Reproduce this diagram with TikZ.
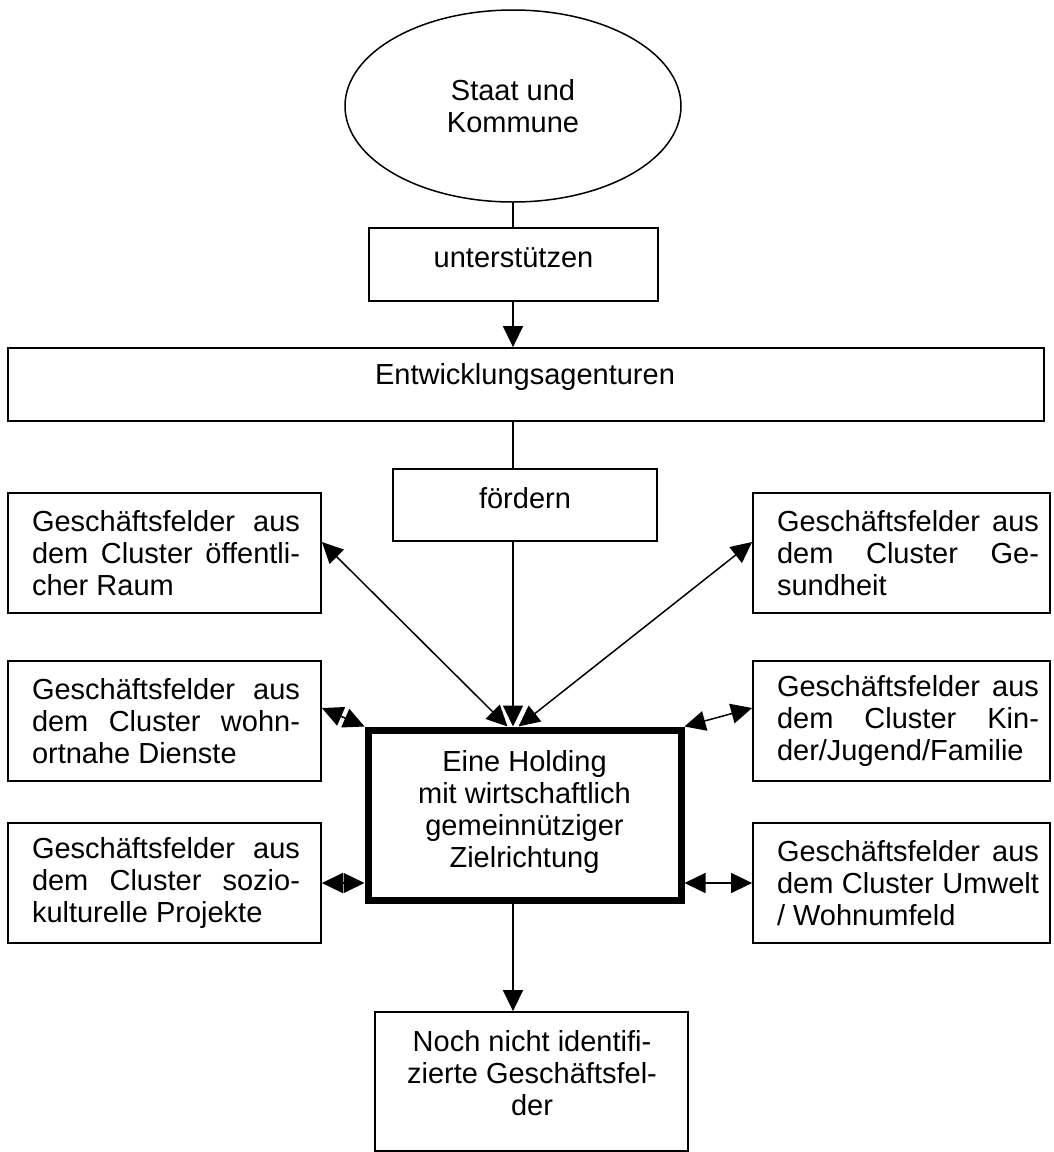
\documentclass[tikz,border=0pt]{standalone}
\usepackage{fontspec}
\setmainfont{Liberation Sans}
\usetikzlibrary{shapes.geometric,arrows.meta}
\newcommand{\diafont}{\fontsize{29}{32}\selectfont}
\begin{document}
\tolerance=10000\relax
\hbadness=10000\relax
\hyphenpenalty=10000\relax
\begin{tikzpicture}[x=1pt,y=-1pt,
  box/.style={draw, line width=1.8pt, inner sep=0pt},
  thickbox/.style={draw, line width=7pt, inner sep=0pt},
  txt/.style={inner sep=0pt, font=\diafont},
  jtxt/.style={txt, text width=#1, align=justify},
  ctxt/.style={txt, align=center},
  tipA/.tip={Triangle[length=21pt,width=20pt]},
  arr/.style={line width=1.5pt, -tipA},
  darr/.style={line width=1.5pt, tipA-tipA},
  plain/.style={line width=1.5pt}
]
\path[use as bounding box, fill=white] (0,0) rectangle (1054,1152);

% top part
\node[draw, line width=1.5pt, ellipse, minimum width=336pt, minimum height=192pt, inner sep=0pt, ctxt] (ell) at (513,106) {Staat und\\Kommune};
\node[box, minimum width=289pt, minimum height=73pt] (unt) at (513.5,264.5) {};
\node[ctxt] (untT) at (513.5,258) {unterstützen};
\node[box, minimum width=1036pt, minimum height=73pt] (ent) at (526,384.5) {};
\node[ctxt] (entT) at (525,377) {Entwicklungsagenturen};
\node[box, minimum width=264pt, minimum height=72pt] (foe) at (525,505) {};
\node[ctxt] (foeT) at (525,498) {fördern};

% left column
\node[box, minimum width=313pt, minimum height=120pt] (l1) at (164.5,553) {};
\node[jtxt=268pt] (l1T) at (166,553) {Geschäftsfelder aus dem Cluster öffentli-\linebreak cher Raum};
\node[box, minimum width=313pt, minimum height=120pt] (l2) at (164.5,721) {};
\node[jtxt=268pt] (l2T) at (166,721) {Geschäftsfelder aus dem Cluster wohn-\linebreak ortnahe Dienste};
\node[box, minimum width=313pt, minimum height=120pt] (l3) at (164.5,883) {};
\node[jtxt=268pt] (l3T) at (166,883) {Geschäftsfelder aus dem Cluster sozio-\linebreak kulturelle Projekte};

% right column
\node[box, minimum width=297pt, minimum height=120pt] (r1) at (901.5,553) {};
\node[jtxt=262pt] (r1T) at (908,553) {Geschäftsfelder aus dem Cluster Ge-\linebreak sundheit};
\node[box, minimum width=297pt, minimum height=120pt] (r2) at (901.5,721) {};
\node[jtxt=262pt] (r2T) at (908,721) {Geschäftsfelder aus dem Cluster Kin-\linebreak der/Jugend/Familie};
\node[box, minimum width=297pt, minimum height=120pt] (r3) at (901.5,883) {};
\node[jtxt=262pt] (r3T) at (908,883) {Geschäftsfelder aus dem Cluster Umwelt\linebreak / Wohnumfeld};

% holding
\node[thickbox, minimum width=313pt, minimum height=170pt] (hold) at (524.5,815) {};
\node[ctxt] (holdT) at (524.5,811.5) {Eine Holding\\mit wirtschaftlich\\gemeinnütziger\\Zielrichtung};

% bottom
\node[box, minimum width=313pt, minimum height=139pt] (bot) at (531.5,1081.5) {};
\node[ctxt] (botT) at (532,1073) {Noch nicht identifi-\\zierte Geschäftsfel-\\der};

% connectors
\draw[plain] (ell.south) -- (unt.north -| ell.south);
\draw[arr] (unt.south -| ell.south) -- (ent.north -| ell.south);
\draw[plain] (ent.south -| ell.south) -- (foe.north -| ell.south);
\draw[darr] ([yshift=11pt]l1.east) -- ([xshift=-17pt]hold.north);
\draw[darr] ([yshift=11pt]r1.west) -- ([xshift=-6pt]hold.north);
\draw[arr] (foe.south -| ell.south) -- (hold.north -| ell.south);
\draw[darr] ([yshift=13pt]l2.east) -- (hold.north west);
\draw[darr] ([yshift=13pt]r2.west) -- (hold.north east);
\draw[darr] (l3.east) -- (l3.east -| hold.west);
\draw[darr] (r3.west) -- (r3.west -| hold.east);
\draw[arr] (hold.south -| ell.south) -- (bot.north -| ell.south);
\end{tikzpicture}
\end{document}
